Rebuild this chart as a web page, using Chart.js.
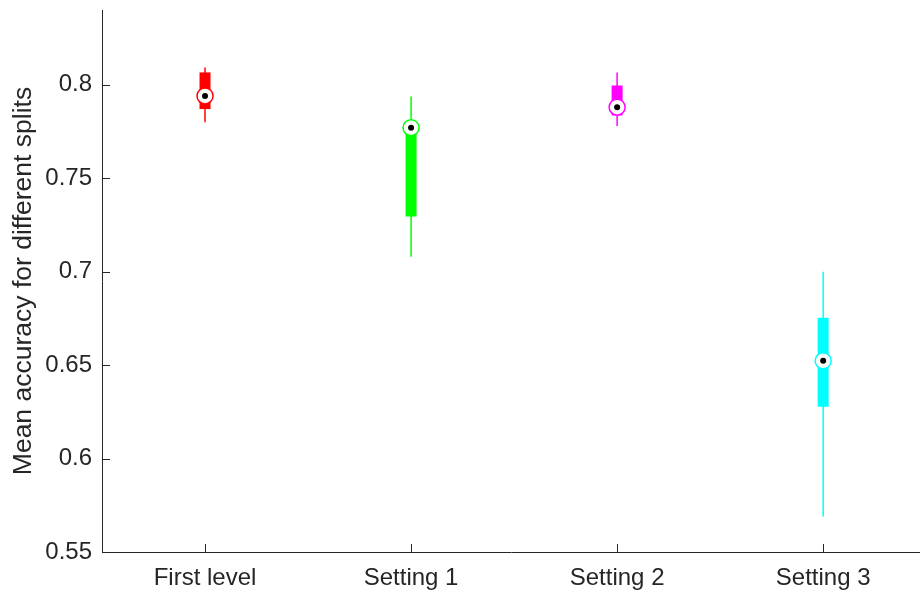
<!DOCTYPE html>
<html>
<head>
<meta charset="utf-8">
<script src="https://cdn.jsdelivr.net/npm/chart.js@4"></script>
<style>
  html, body { margin: 0; padding: 0; background: #fff; overflow: hidden; }
</style>
</head>
<body>
<canvas id="boxChart" width="920" height="592"></canvas>
<script>
const categories = ["First level", "Setting 1", "Setting 2", "Setting 3"];
const whiskerLow = [0.780, 0.708, 0.778, 0.569];
const boxLow = [0.787, 0.7295, 0.7836, 0.6277];
const medians = [0.794, 0.777, 0.788, 0.6523];
const boxHigh = [0.8066, 0.7775, 0.7996, 0.6754];
const whiskerHigh = [0.8093, 0.7937, 0.8066, 0.700];
const colors = ["#ff0000", "#00ff00", "#ff00ff", "#00ffff"];
const yTicks = [0.55, 0.6, 0.65, 0.7, 0.75, 0.8];
const xTicks = [1, 2, 3, 4];

const axisColor = "#262626";
const fontFamily = "'Liberation Sans', Arial, sans-serif";

const datasets = [];
categories.forEach((name, i) => {
  const x = i + 1;
  // whisker line
  datasets.push({
    type: "line",
    data: [{ x: x, y: whiskerLow[i] }, { x: x, y: whiskerHigh[i] }],
    borderColor: colors[i],
    borderWidth: 1.5,
    pointRadius: 0,
    order: 4,
  });
  // thick box (q1 -> q3)
  datasets.push({
    type: "line",
    data: [{ x: x, y: boxLow[i] }, { x: x, y: boxHigh[i] }],
    borderColor: colors[i],
    borderWidth: 11,
    borderCapStyle: "butt",
    pointRadius: 0,
    order: 3,
  });
  // median circle
  datasets.push({
    type: "scatter",
    data: [{ x: x, y: medians[i] }],
    backgroundColor: "#ffffff",
    borderColor: colors[i],
    borderWidth: 1.5,
    pointRadius: 8,
    order: 2,
  });
  // median dot
  datasets.push({
    type: "scatter",
    data: [{ x: x, y: medians[i] }],
    backgroundColor: "#000000",
    borderWidth: 0,
    pointRadius: 3,
    order: 1,
  });
});

// ticks pointing inward, like the original
const innerTicks = {
  id: "innerTicks",
  afterDraw(chart) {
    const { ctx, chartArea, scales } = chart;
    ctx.save();
    ctx.strokeStyle = axisColor;
    ctx.lineWidth = 1;
    ctx.beginPath();
    scales.y.ticks.forEach((t) => {
      const py = Math.round(scales.y.getPixelForValue(t.value)) + 0.5;
      ctx.moveTo(chartArea.left, py);
      ctx.lineTo(chartArea.left + 8, py);
    });
    scales.x.ticks.forEach((t) => {
      const px = Math.round(scales.x.getPixelForValue(t.value)) + 0.5;
      ctx.moveTo(px, chartArea.bottom);
      ctx.lineTo(px, chartArea.bottom - 8);
    });
    ctx.stroke();
    ctx.restore();
  },
};

const ctx = document.getElementById("boxChart").getContext("2d");
new Chart(ctx, {
  type: "line",
  data: { datasets: datasets },
  plugins: [innerTicks],
  options: {
    responsive: false,
    animation: false,
    layout: { autoPadding: false, padding: { top: 10, right: 0, left: 0, bottom: 0 } },
    plugins: {
      legend: { display: false },
      tooltip: { enabled: false },
    },
    scales: {
      x: {
        type: "linear",
        min: 0.5,
        max: 4.47,
        afterBuildTicks: (scale) => {
          scale.ticks = xTicks.map((v) => ({ value: v }));
        },
        afterFit: (scale) => {
          scale.height = 40;
          scale.paddingLeft = 0;
          scale.paddingRight = 0;
        },
        grid: { drawOnChartArea: false, drawTicks: false },
        border: { display: true, color: axisColor, width: 1 },
        ticks: {
          padding: 12,
          color: axisColor,
          font: { family: fontFamily, size: 24 },
          maxRotation: 0,
          callback: (v) => categories[v - 1],
        },
      },
      y: {
        min: 0.55,
        max: 0.84,
        afterBuildTicks: (scale) => {
          scale.ticks = yTicks.map((v) => ({ value: v }));
        },
        afterFit: (scale) => {
          scale.width = 102;
          scale.paddingTop = 0;
          scale.paddingBottom = 0;
        },
        grid: { drawOnChartArea: false, drawTicks: false },
        border: { display: true, color: axisColor, width: 1 },
        ticks: {
          padding: 10,
          color: axisColor,
          font: { family: fontFamily, size: 24 },
          callback: (v) => String(v),
        },
        title: {
          display: true,
          text: "Mean accuracy for different splits",
          color: axisColor,
          font: { family: fontFamily, size: 26.5 },
          padding: { top: 8, bottom: 0 },
        },
      },
    },
  },
});
</script>
</body>
</html>
